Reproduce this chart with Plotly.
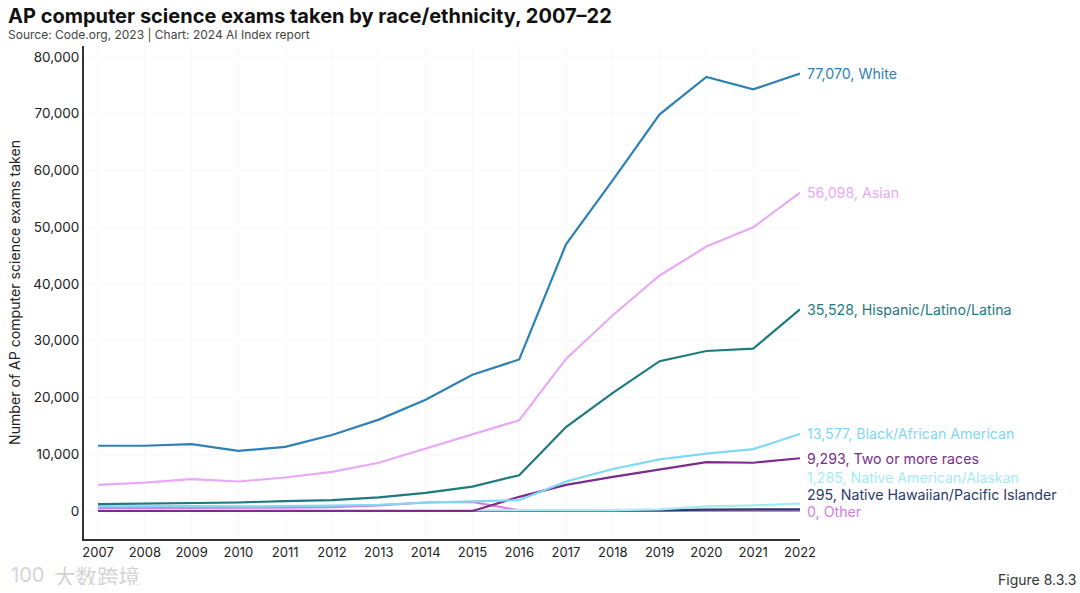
import plotly.graph_objects as go

years = list(range(2007, 2023))
white = [11500, 11500, 11800, 10600, 11300, 13400, 16100, 19600, 24000, 26700, 47000, 58300, 69900, 76500, 74300, 77070]
asian = [4600, 5000, 5600, 5200, 5900, 6900, 8500, 11000, 13600, 16000, 26800, 34500, 41500, 46600, 50000, 56098]
hispanic = [1200, 1300, 1400, 1500, 1750, 1900, 2400, 3200, 4300, 6300, 14800, 20800, 26400, 28200, 28600, 35528]
black = [800, 850, 850, 800, 850, 950, 1100, 1500, 1700, 1900, 5200, 7400, 9100, 10100, 10900, 13577]
two_more = [0, 0, 0, 0, 0, 0, 0, 0, 0, 2500, 4600, 6000, 7300, 8600, 8500, 9293]
native_am = [100, 100, 100, 100, 100, 100, 100, 100, 100, 100, 100, 150, 300, 800, 1000, 1285]
native_hi = [0, 0, 0, 0, 0, 0, 0, 0, 0, 0, 0, 50, 100, 250, 280, 295]
other = [500, 500, 500, 500, 600, 700, 1000, 1500, 1600, 100, 0, 0, 0, 0, 0, 0]

series = [
    ("Other", other, "#cf7fdc", 0),
    ("Native Hawaiian/Pacific Islander", native_hi, "#2b3a6b", 15),
    ("Native American/Alaskan", native_am, "#a5ecf0", 26),
    ("Two or more races", two_more, "#7b2d8b", 0),
    ("Black/African American", black, "#7fd8f5", 0),
    ("Hispanic/Latino/Latina", hispanic, "#1f7a80", 0),
    ("Asian", asian, "#e8a9f7", 0),
    ("White", white, "#2f81b5", 0),
]
y_ticks = list(range(0, 80001, 10000))
FONT = "Inter"

fig = go.Figure()
for name, vals, col, shift in series:
    fig.add_trace(go.Scatter(x=years, y=vals, mode="lines", name=name,
                             line=dict(color=col, width=2.2), showlegend=False))
    fig.add_annotation(x=2022, y=vals[-1], xref="x", yref="y", xanchor="left", yanchor="middle",
                       xshift=5, yshift=shift,
                       text=f"{vals[-1]:,}, {name}", showarrow=False,
                       font=dict(family=FONT, size=14.2, color=col))

fig.update_layout(
    width=1080, height=593, paper_bgcolor="white", plot_bgcolor="white",
    margin=dict(l=84, r=280, t=46, b=54),
    font=dict(family=FONT, size=14, color="#222222"),
    xaxis=dict(range=[2006.7, 2022], tickmode="array", tickvals=years, ticktext=[str(y) for y in years],
               showline=True, linecolor="#333333", linewidth=2, showgrid=True, gridcolor="#f8f8f8",
               ticks="", zeroline=False, tickfont=dict(size=13, color="#222222"), tickangle=0),
    yaxis=dict(range=[-4934, 81940], tickmode="array", tickvals=y_ticks, ticktext=[f"{v:,}" for v in y_ticks],
               showline=True, linecolor="#333333", linewidth=2, showgrid=True, gridcolor="#f8f8f8",
               ticks="", zeroline=False, tickfont=dict(size=13.5, color="#222222"),
               title=dict(text="Number of AP computer science exams taken", standoff=9,
                          font=dict(size=14.1, color="#222222"))),
)
fig.add_annotation(xref="paper", yref="paper", x=-0.1093, y=1.0, xanchor="left", yanchor="bottom", yshift=16,
                   text="<b>AP computer science exams taken by race/ethnicity, 2007–22</b>", showarrow=False,
                   font=dict(family=FONT, size=20, color="#111111"))
fig.add_annotation(xref="paper", yref="paper", x=-0.1093, y=1.0, xanchor="left", yanchor="bottom", yshift=2,
                   text="Source: Code.org, 2023 | Chart: 2024 AI Index report", showarrow=False,
                   font=dict(family=FONT, size=12, color="#444444"))
fig.add_annotation(xref="paper", yref="paper", x=1.3883, y=0, xanchor="right", yanchor="top", yshift=-30,
                   text="Figure 8.3.3", showarrow=False, font=dict(family=FONT, size=14, color="#333333"))
fig.add_annotation(xref="paper", yref="paper", x=-0.045, y=0, xanchor="left", yanchor="top", yshift=-24,
                   height=20, text="大数跨境", showarrow=False,
                   font=dict(family="Noto Sans CJK SC", size=21.5, color="#d4d4d4"))
fig.add_annotation(xref="paper", yref="paper", x=-0.105, y=0, xanchor="left", yanchor="top", yshift=-24,
                   height=20, text="100", showarrow=False,
                   font=dict(family=FONT, size=20, color="#d4d4d4"))
fig.write_html("out.html", post_script="document.body.style.margin='0';",
               config={"displayModeBar": False})
